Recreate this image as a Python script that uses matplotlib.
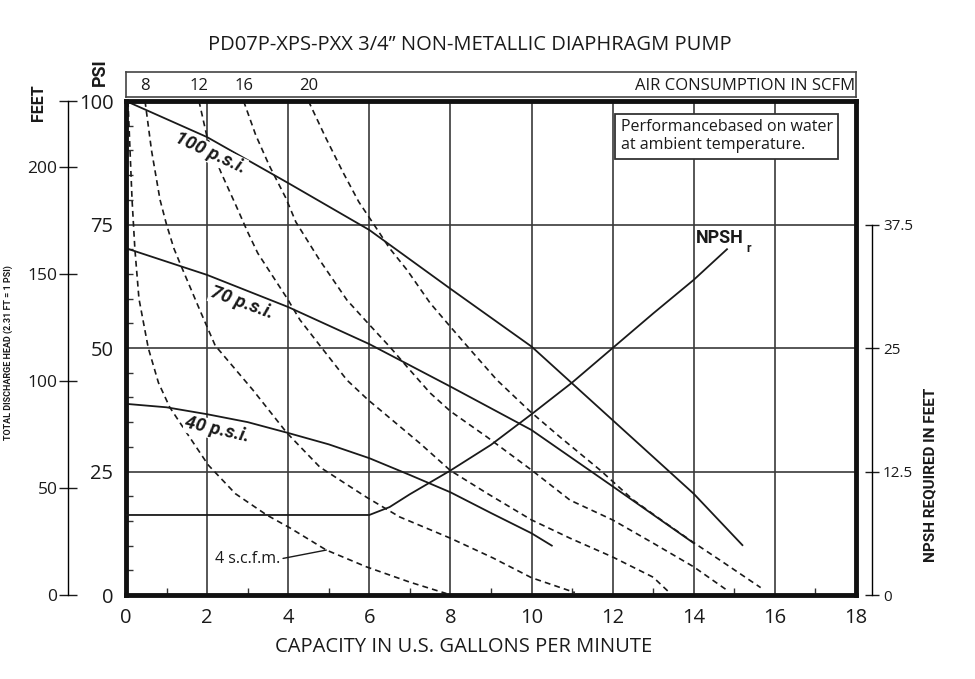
import matplotlib
matplotlib.use('Agg')
import matplotlib.pyplot as plt

# capacity (gpm) vs discharge head (psi) at inlet air pressure
psi100_gpm = [0, 2, 4, 6, 8, 10, 12, 14, 15.2]
psi100_head = [100, 92.7, 83.4, 73.9, 62.0, 50.3, 35.4, 20.5, 10.1]

psi70_gpm = [0, 2, 4, 6, 8, 10, 12, 14]
psi70_head = [70.2, 64.8, 58.3, 50.8, 42.2, 33.4, 22.0, 10.5]

psi40_gpm = [0, 1, 2, 3, 4, 5, 6, 7, 8, 9, 10, 10.5]
psi40_head = [38.7, 38.0, 36.6, 35.0, 32.8, 30.5, 27.7, 24.3, 20.8, 16.6, 12.5, 10.0]

# air consumption lines (scfm)
scfm4_gpm = [0.05, 0.1, 0.15, 0.22, 0.32, 0.55, 0.8, 1.08, 1.5, 2.03, 2.7, 3.47, 4.04, 4.94, 5.93, 7.0, 7.9]
scfm4_head = [100, 90, 80, 70, 60, 50, 43, 38, 32.8, 26.3, 20.5, 16.2, 13.6, 9.1, 5.7, 2.6, 0.3]

scfm8_gpm = [0.47, 0.63, 0.84, 1.0, 1.18, 1.33, 1.82, 2.2, 3.13, 3.97, 4.78, 5.93, 6.75, 8.0, 9.05, 10.0, 11.07]
scfm8_head = [100, 90, 80, 75, 70.2, 67.2, 57.7, 50.5, 41.5, 32.8, 25.9, 19.8, 15.8, 11.5, 7.5, 3.5, 0.5]

scfm12_gpm = [1.8, 2.0, 2.34, 2.71, 3.0, 3.25, 3.97, 4.29, 4.83, 5.45, 5.97, 6.51, 7.25, 8.0, 8.9, 10.0, 10.95, 12.0, 13.0, 13.4]
scfm12_head = [100, 92.7, 85.6, 78.9, 73.5, 69.2, 60.1, 55.7, 50.0, 43.5, 39.5, 35.8, 30.7, 25.2, 20.6, 15.2, 11.5, 7.7, 3.6, 0.5]

scfm16_gpm = [2.9, 3.2, 3.53, 3.94, 4.19, 4.76, 5.45, 5.97, 6.51, 6.93, 7.5, 8.0, 8.9, 10.0, 10.95, 12.0, 13.0, 14.0, 14.85]
scfm16_head = [100, 93.1, 87.0, 80.4, 75.5, 68.0, 59.7, 55.0, 50.2, 46.2, 40.9, 37.2, 32.0, 25.3, 19.2, 15.2, 10.5, 5.7, 0.8]

scfm20_gpm = [4.5, 4.93, 5.35, 5.74, 6.09, 6.5, 6.93, 7.5, 8.0, 8.56, 9.15, 9.96, 10.7, 11.69, 12.5, 13.3, 14.0, 14.64, 15.65]
scfm20_head = [100, 92.5, 85.6, 79.6, 75.3, 70.2, 65.8, 59.1, 54.3, 49.0, 43.5, 37.2, 32.0, 25.3, 19.3, 14.6, 10.6, 7.1, 1.5]

scfm_labels = ['8', '12', '16', '20']

# NPSH required (feet)
npsh_gpm = [0, 6, 6.5, 7, 8, 9, 10, 11, 12, 13, 14, 14.82]
npsh_ft = [8.1, 8.1, 8.9, 10.2, 12.6, 15.2, 18.3, 21.5, 25.0, 28.5, 31.9, 35.0]

x_ticks = [0, 2, 4, 6, 8, 10, 12, 14, 16, 18]
psi_ticks = [0, 25, 50, 75, 100]
feet_ticks = [0, 50, 100, 150, 200]
npsh_ticks = [0, 12.5, 25, 37.5]

main_font = 'Open Sans'
narrow = ['Roboto', 'DejaVu Sans']
ink = '#1a1a1a'

plt.rcParams['font.family'] = [main_font, 'DejaVu Sans']

fig = plt.figure(figsize=(9.75, 6.79), dpi=100)
ax = fig.add_axes([0.1292, 0.1237, 0.7487, 0.7275])
ax.set_xlim(0, 18)
ax.set_ylim(0, 100)

ax.set_xticks(x_ticks)
ax.set_xticks(range(1, 18, 2), minor=True)
ax.set_yticks(psi_ticks)
ax.set_yticks(range(0, 100, 5), minor=True)
ax.tick_params(which='major', length=0, labelsize=14.5, colors=ink, pad=9)
ax.tick_params(which='minor', direction='in', length=5, width=1.0, color='#333')
ax.grid(True, which='major', color='#3a3a3a', linewidth=1.2)
for s in ax.spines.values():
    s.set_linewidth(3.5)
    s.set_color('#111')

solid = dict(color=ink, linewidth=1.3)
dashed = dict(color=ink, linewidth=1.2, linestyle=(0, (3.5, 2.5)))

ax.plot(psi100_gpm, psi100_head, **solid)
ax.plot(psi70_gpm, psi70_head, **solid)
ax.plot(psi40_gpm, psi40_head, **solid)

ax.plot(scfm4_gpm, scfm4_head, **dashed)
ax.plot(scfm8_gpm, scfm8_head, **dashed)
ax.plot(scfm12_gpm, scfm12_head, **dashed)
ax.plot(scfm16_gpm, scfm16_head, **dashed)
ax.plot(scfm20_gpm, scfm20_head, **dashed)

lab = dict(family=narrow, fontweight='bold', fontstyle='italic', fontsize=13.5,
           ha='center', va='center', color=ink,
           bbox=dict(fc='white', ec='none', pad=0.5))
ax.text(2.07, 89.5, '100 p.s.i.', rotation=-25, **lab)
ax.text(2.85, 59.1, '70 p.s.i.', rotation=-20, **lab)
ax.text(2.24, 33.4, '40 p.s.i.', rotation=-13, **lab)

ax.annotate('4 s.c.f.m.', xy=(4.94, 9.1), xytext=(3.0, 7.3),
            fontsize=11.5, ha='center', va='center', color=ink,
            arrowprops=dict(arrowstyle='-', color=ink, lw=1.0, shrinkA=0, shrinkB=0,
                            relpos=(1.0, 0.5)))

ax.text(12.2, 96.3, 'Performancebased on water\nat ambient temperature.',
        fontsize=11.5, ha='left', va='top', color=ink, linespacing=1.15,
        bbox=dict(boxstyle='square,pad=0.35', fc='white', ec='#333', lw=1.3))

# NPSH on its own scale (feet)
axn = ax.twinx()
axn.set_ylim(0, 50)
axn.plot(npsh_gpm, npsh_ft, **solid)
for k in ['top', 'bottom', 'left']:
    axn.spines[k].set_visible(False)
axn.spines['right'].set_position(('axes', 1.0219))
axn.spines['right'].set_bounds(0, 37.5)
axn.spines['right'].set_linewidth(1.0)
axn.set_yticks(npsh_ticks)
axn.set_yticklabels(['0', '12.5', '25', '37.5'])
axn.tick_params(axis='y', direction='inout', length=10, width=1.0, labelsize=11,
                colors=ink, pad=3)
axn.text(14.05, 72.3 / 2, 'NPSH', family=narrow, fontweight='bold', fontsize=13,
         ha='left', va='center', color=ink)
axn.text(15.3, 70.2 / 2, 'r', family=narrow, fontweight='bold', fontsize=9,
         ha='left', va='center', color=ink)

# head in feet (2.31 ft = 1 psi)
axf = ax.twinx()
axf.set_ylim(0, 231)
for k in ['top', 'bottom', 'right']:
    axf.spines[k].set_visible(False)
axf.spines['left'].set_visible(True)
axf.spines['left'].set_position(('axes', -0.0795))
axf.spines['left'].set_bounds(0, 231)
axf.spines['left'].set_linewidth(1.0)
axf.yaxis.set_ticks_position('left')
axf.set_yticks(feet_ticks + [231])
axf.set_yticklabels([str(t) for t in feet_ticks] + [''])
axf.tick_params(axis='y', direction='inout', length=13, width=1.0, labelsize=12.5,
                colors=ink, pad=1)

# air consumption strip on top
axt = fig.add_axes([0.1292, 1 - 97 / 679, 0.7487, 25 / 679])
axt.set_xlim(0, 18)
axt.set_ylim(0, 1)
axt.set_xticks([])
axt.set_yticks([])
for s in axt.spines.values():
    s.set_linewidth(1.2)
    s.set_color('#444')
starts = [scfm8_gpm[0], scfm12_gpm[0], scfm16_gpm[0], scfm20_gpm[0]]
for x0, t in zip(starts, scfm_labels):
    axt.text(x0, 0.45, t, fontsize=12, ha='center', va='center', color=ink)
axt.text(17.98, 0.45, 'AIR CONSUMPTION IN SCFM', fontsize=12, ha='right',
         va='center', color=ink)

fig.text(470 / 975, 1 - 45 / 679, 'PD07P-XPS-PXX 3/4\u201d NON-METALLIC DIAPHRAGM PUMP',
         fontsize=14.5, ha='center', va='center', color=ink)
fig.text(464 / 975, 1 - 647 / 679, 'CAPACITY IN U.S. GALLONS PER MINUTE',
         fontsize=14.5, ha='center', va='center', color=ink)
fig.text(100 / 975, 1 - 72 / 679, 'PSI', family=narrow, fontweight='bold',
         fontsize=13, rotation=90, ha='center', va='center', color=ink)
fig.text(39 / 975, 1 - 103 / 679, 'FEET', family=narrow, fontweight='bold',
         fontsize=11.5, rotation=90, ha='center', va='center', color=ink)
fig.text(8 / 975, 1 - 353 / 679, 'TOTAL DISCHARGE HEAD (2.31 FT = 1 PSI)', family=narrow,
         fontweight='bold', fontsize=6.5, rotation=90, ha='center', va='center', color=ink)
fig.text(930 / 975, 1 - 475 / 679, 'NPSH REQUIRED IN FEET', family=narrow,
         fontweight='bold', fontsize=11, rotation=90, ha='center', va='center', color=ink)

fig.savefig('out.png', dpi=100)
